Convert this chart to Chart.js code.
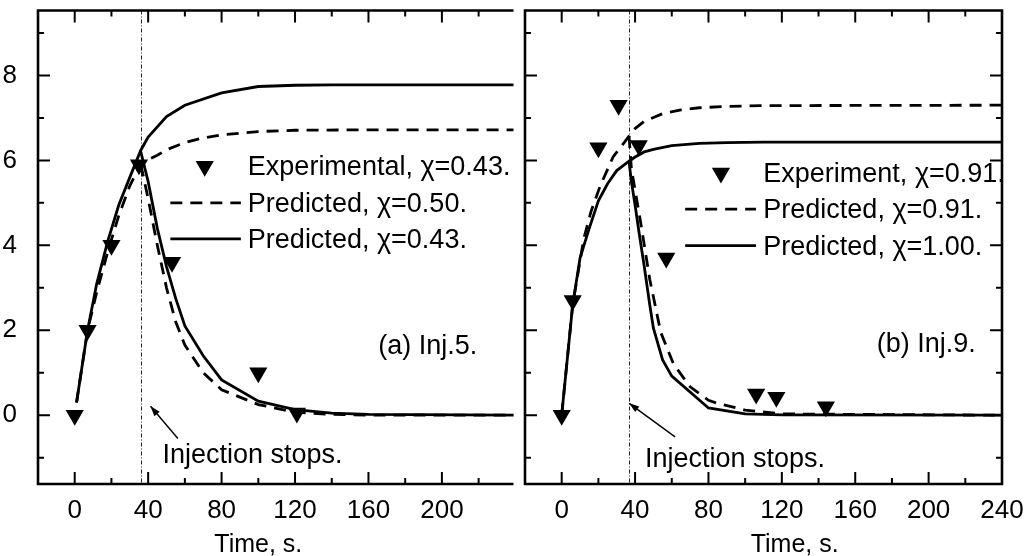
<!DOCTYPE html>
<html>
<head>
<meta charset="utf-8">
<script src="https://cdn.jsdelivr.net/npm/chart.js@4/dist/chart.umd.min.js"></script>
<style>
  body { margin: 0; background: #fff; width: 1025px; height: 556px; position: relative; overflow: hidden; }
  canvas { position: absolute; top: 0; }
  #left { left: 0; }
  #right { left: 505px; }
</style>
</head>
<body>
<canvas id="left" width="524" height="556"></canvas>
<canvas id="right" width="520" height="556"></canvas>
<script>
// ---- ticks ----
const yTickVals = [-1, 0, 1, 2, 3, 4, 5, 6, 7, 8, 9];
const yLabelVals = [0, 2, 4, 6, 8];
const xTickVals = [0, 20, 40, 60, 80, 100, 120, 140, 160, 180, 200, 220];
const xLabelValsA = [0, 40, 80, 120, 160, 200];
const xLabelValsB = [0, 40, 80, 120, 160, 200, 240];

// ---- (a) Inj.5 ----
const expTimeA = [0, 7, 20, 35, 53, 100, 121];
const expValA = [0, 2.0, 4.0, 5.9, 3.6, 1.0, 0.05];
const riseTimeA = [1, 7, 12, 18, 24, 30, 36, 40, 50, 60, 80, 100, 120, 140, 240];
const solidRiseA = [0.3, 2.0, 3.1, 4.1, 4.95, 5.6, 6.24, 6.55, 7.03, 7.3, 7.59, 7.74, 7.77, 7.78, 7.78];
const dashTimeA = [1, 7, 12, 18, 24, 30, 36, 40, 45, 50, 60, 70, 80, 100, 120, 160, 240];
const dashRiseA = [0.3, 2.0, 2.9, 3.85, 4.7, 5.4, 5.92, 6.02, 6.12, 6.25, 6.42, 6.53, 6.6, 6.68, 6.71, 6.72, 6.72];
const decayTimeA = [36, 40, 45, 50, 55, 60, 70, 80, 100, 120, 140, 160, 240];
const solidDecayA = [6.2, 5.5, 4.4, 3.5, 2.75, 2.1, 1.4, 0.83, 0.33, 0.13, 0.05, 0.02, 0];
const dashDecayA = [5.9, 5.1, 4.0, 3.0, 2.2, 1.65, 1.0, 0.6, 0.25, 0.07, 0.02, 0, 0];
const legendA = ['Experimental, \u03c7=0.43.', 'Predicted, \u03c7=0.50.', 'Predicted, \u03c7=0.43.'];

// ---- (b) Inj.9 ----
const expTimeB = [0, 6, 20, 31, 42, 57, 106, 117, 144];
const expValB = [0, 2.7, 6.3, 7.3, 6.35, 3.7, 0.5, 0.42, 0.2];
const riseTimeB = [0, 6, 10, 15, 20, 25, 30, 36.7, 40, 45, 50, 60, 75, 90, 110, 240];
const solidRiseB = [0, 2.6, 3.7, 4.4, 5.05, 5.45, 5.76, 5.98, 6.08, 6.2, 6.26, 6.35, 6.4, 6.42, 6.43, 6.43];
const dashTimeB = [0, 6, 12, 16, 21, 28, 36.7, 40, 45, 55, 65, 75, 90, 110, 240];
const dashRiseB = [0, 2.6, 4.15, 4.8, 5.4, 6.08, 6.57, 6.75, 6.92, 7.1, 7.19, 7.24, 7.27, 7.29, 7.3];
const decayTimeB = [36.7, 38, 40, 42, 45, 48, 50, 55, 60, 80, 100, 120, 240];
const solidDecayB = [5.98, 5.5, 4.95, 4.35, 3.5, 2.6, 2.05, 1.3, 0.92, 0.17, 0.03, 0.01, 0];
const dashDecayTimeB = [36.7, 38, 40, 43, 48, 54, 61, 70, 80, 85, 100, 120, 240];
const dashDecayB = [6.57, 5.8, 5.3, 4.55, 3.2, 1.95, 1.2, 0.67, 0.35, 0.28, 0.12, 0.03, 0];
const legendB = ['Experiment, \u03c7=0.91.', 'Predicted, \u03c7=0.91.', 'Predicted, \u03c7=1.00.'];

const FONT = '"Liberation Sans", Arial, sans-serif';
const pts = (xs, ys) => xs.map((t, i) => ({ x: t, y: ys[i] }));

function expSet(xs, ys) {
  return { data: pts(xs, ys), showLine: false, pointStyle: 'triangle', rotation: 180,
    pointRadius: 10.5, backgroundColor: '#000', borderWidth: 0 };
}
function curve(xs, ys, dashed) {
  return { data: pts(xs, ys), showLine: true, pointRadius: 0, borderColor: '#000',
    borderWidth: 2.8, borderDash: dashed ? [12, 8] : [], tension: 0, fill: false };
}

function panelPlugin(p) {
  return {
    id: 'panel',
    beforeDatasetsDraw(chart) {
      const { ctx, chartArea: a, scales: { x } } = chart;
      const px = Math.round(x.getPixelForValue(p.stop)) + 0.5;
      ctx.save();
      ctx.strokeStyle = '#222';
      ctx.lineWidth = 1;
      ctx.setLineDash([4, 2, 1, 2]);
      ctx.beginPath(); ctx.moveTo(px, a.top); ctx.lineTo(px, a.bottom); ctx.stroke();
      ctx.restore();
    },
    afterDatasetsDraw(chart) {
      const { ctx, chartArea: a, scales: { x, y } } = chart;
      ctx.save();
      ctx.strokeStyle = '#000';
      ctx.fillStyle = '#000';
      // frame
      ctx.lineWidth = 2.6;
      ctx.beginPath();
      if (p.box) {
        ctx.rect(a.left, a.top, a.right - a.left, a.bottom - a.top);
      } else {
        ctx.moveTo(a.right, a.top); ctx.lineTo(a.left, a.top);
        ctx.lineTo(a.left, a.bottom); ctx.lineTo(a.right, a.bottom);
      }
      ctx.stroke();
      // inward ticks
      ctx.lineWidth = 2;
      ctx.beginPath();
      xTickVals.forEach(v => {
        const px = x.getPixelForValue(v);
        const len = v % 40 === 0 ? 12 : 6;
        ctx.moveTo(px, a.bottom); ctx.lineTo(px, a.bottom - len);
        ctx.moveTo(px, a.top); ctx.lineTo(px, a.top + len);
      });
      yTickVals.forEach(v => {
        const py = y.getPixelForValue(v);
        const len = v % 2 === 0 ? 12 : 6;
        ctx.moveTo(a.left, py); ctx.lineTo(a.left + len, py);
        if (p.box) { ctx.moveTo(a.right, py); ctx.lineTo(a.right - len, py); }
      });
      ctx.stroke();
      // arrow to the injection stop
      const tx = x.getPixelForValue(p.arrow[0]), ty = y.getPixelForValue(p.arrow[1]);
      const sx = x.getPixelForValue(p.arrow[2]), sy = y.getPixelForValue(p.arrow[3]);
      const ang = Math.atan2(ty - sy, tx - sx);
      ctx.lineWidth = 1.4;
      ctx.beginPath(); ctx.moveTo(sx, sy); ctx.lineTo(tx, ty); ctx.stroke();
      ctx.beginPath();
      ctx.moveTo(tx, ty);
      ctx.lineTo(tx - 10 * Math.cos(ang) + 3.5 * Math.sin(ang), ty - 10 * Math.sin(ang) - 3.5 * Math.cos(ang));
      ctx.lineTo(tx - 10 * Math.cos(ang) - 3.5 * Math.sin(ang), ty - 10 * Math.sin(ang) + 3.5 * Math.cos(ang));
      ctx.closePath(); ctx.fill();
      // texts
      ctx.font = '27px ' + FONT;
      ctx.textAlign = 'left';
      ctx.textBaseline = 'alphabetic';
      ctx.fillText('Injection stops.', x.getPixelForValue(p.note[0]), y.getPixelForValue(p.note[1]));
      ctx.fillText(p.tag[0], x.getPixelForValue(p.tag[1]), y.getPixelForValue(p.tag[2]));
      // legend
      const L = p.legend;
      const ds = chart.data.datasets;
      L.rows.forEach((row, i) => {
        const base = y.getPixelForValue(row);
        const mid = base - 9;
        if (i === 0) {
          Chart.helpers.drawPoint(ctx, { pointStyle: 'triangle', radius: 10.5, rotation: 180, borderWidth: 0 },
            x.getPixelForValue(L.sym), mid);
        } else {
          const d = ds[i === 1 ? 1 : 3];
          ctx.save();
          ctx.lineWidth = d.borderWidth;
          ctx.setLineDash(d.borderDash);
          ctx.beginPath();
          ctx.moveTo(x.getPixelForValue(L.from), mid);
          ctx.lineTo(x.getPixelForValue(L.to), mid);
          ctx.stroke();
          ctx.restore();
        }
        ctx.fillText(p.labels[i], x.getPixelForValue(L.text), base);
      });
      // axis title
      ctx.font = '25px ' + FONT;
      ctx.textAlign = 'center';
      ctx.fillText('Time, s.', x.getPixelForValue(p.titleX), 552);
      ctx.restore();
    }
  };
}

function makeChart(id, sets, p, xLabels, showY, padding) {
  return new Chart(document.getElementById(id), {
    type: 'scatter',
    data: { datasets: sets },
    options: {
      responsive: false,
      animation: false,
      events: [],
      layout: { padding: padding },
      plugins: { legend: { display: false }, tooltip: { enabled: false } },
      scales: {
        x: {
          type: 'linear', min: p.xMin, max: p.xMax,
          grid: { display: false }, border: { display: false },
          afterBuildTicks: s => { s.ticks = xLabels.map(v => ({ value: v })); },
          afterFit: s => { s.height = 72; s.paddingLeft = 0; s.paddingRight = 0; },
          ticks: { color: '#000', font: { family: FONT, size: 26 }, padding: 3,
            maxRotation: 0, minRotation: 0, autoSkip: false }
        },
        y: {
          type: 'linear', min: -1.62, max: 9.53, display: showY,
          grid: { display: false }, border: { display: false },
          afterBuildTicks: s => { s.ticks = yLabelVals.map(v => ({ value: v })); },
          afterFit: s => { s.width = showY ? 38 : 0; s.paddingTop = 0; s.paddingBottom = 0; },
          ticks: { color: '#000', font: { family: FONT, size: 26 }, padding: 13 }
        }
      }
    },
    plugins: [panelPlugin(p)]
  });
}

const panelA = {
  box: false, stop: 36, xMin: -20, xMax: 239, titleX: 100,
  arrow: [41.3, 0.21, 56.2, -0.55], note: [47.8, -1.13], tag: ['(a) Inj.5.', 165.3, 1.43],
  legend: { sym: 70.8, from: 52.1, to: 90.5, text: 94.3, rows: [5.65, 4.79, 3.94] },
  labels: legendA
};
const panelB = {
  box: true, stop: 36.7, xMin: -20, xMax: 240, titleX: 127,
  arrow: [36.8, 0.28, 61.8, -0.51], note: [45.4, -1.21], tag: ['(b) Inj.9.', 171.7, 1.48],
  legend: { sym: 86.8, from: 67.3, to: 105.9, text: 109.9, rows: [5.49, 4.64, 3.78] },
  labels: legendB
};

makeChart('left', [
  expSet(expTimeA, expValA),
  curve(dashTimeA, dashRiseA, true),
  curve(decayTimeA, dashDecayA, true),
  curve(riseTimeA, solidRiseA, false),
  curve(decayTimeA, solidDecayA, false)
], panelA, xLabelValsA, true, { left: 0, right: 1, top: 10, bottom: 0 });

makeChart('right', [
  expSet(expTimeB, expValB),
  curve(dashTimeB, dashRiseB, true),
  curve(dashDecayTimeB, dashDecayB, true),
  curve(riseTimeB, solidRiseB, false),
  curve(decayTimeB, solidDecayB, false)
], panelB, xLabelValsB, false, { left: 20, right: 23, top: 10, bottom: 0 });
</script>
</body>
</html>
